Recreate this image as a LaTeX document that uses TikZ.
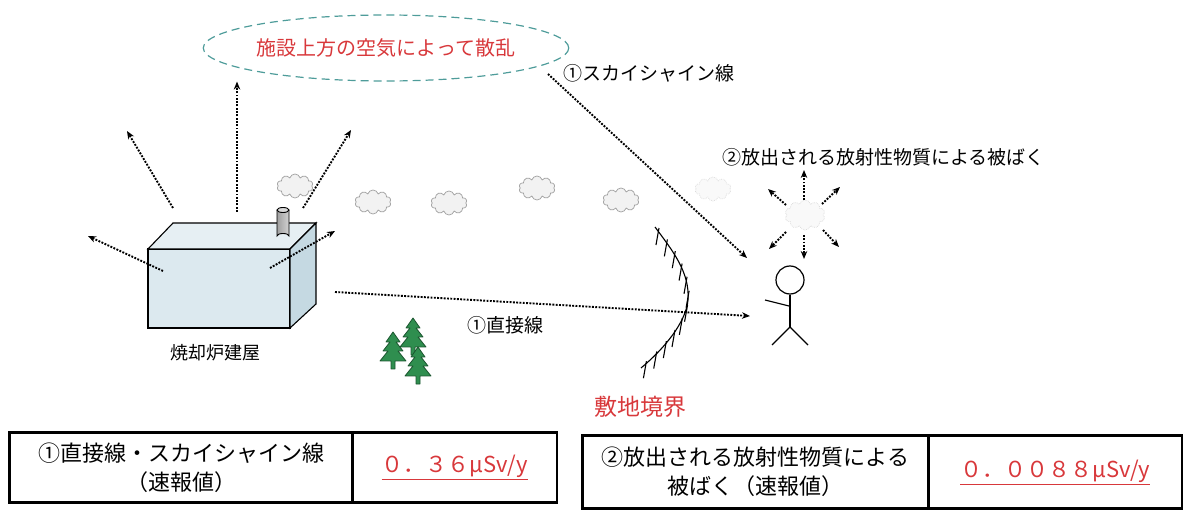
\documentclass[tikz,border=0pt]{standalone}
\usepackage{fontspec}
\setmainfont{Noto Sans CJK JP}
\usetikzlibrary{arrows.meta, positioning, shapes.geometric, shapes.symbols, decorations.markings}

\definecolor{avisorojo}{HTML}{D8383B}
\definecolor{bordeturq}{HTML}{4E9C9A}
\definecolor{muroazul}{HTML}{DCE9EF}
\definecolor{ladoazul}{HTML}{C5D9E2}
\definecolor{techoazul}{HTML}{E6EFF3}
\definecolor{pinoverde}{HTML}{2F8E4F}
\definecolor{pinooscuro}{HTML}{1C5630}

\begin{document}
\begin{tikzpicture}[x=1pt, y=-1pt, >={Stealth[length=8pt, width=6.5pt]},
  ray/.style={->, line width=1.9pt, dash pattern=on 1.9pt off 1.4pt},
  puff/.style={cloud, cloud puffs=10, aspect=1.6, draw=gray!75, fill=gray!10, line width=0.7pt, minimum width=36pt, minimum height=24pt, inner sep=0pt},
  faintpuff/.style={puff, draw=gray!30, fill=gray!5, densely dotted},
  tag/.style={font=\fontsize{19}{22}\selectfont, inner sep=0pt},
  redtag/.style={tag, text=avisorojo},
  cell/.style={draw, line width=1.2pt, font=\fontsize{22}{29}\selectfont, align=center, inner sep=0pt},
  dose/.style={cell, text=avisorojo}]

  \useasboundingbox (0,0) rectangle (1191,510);

  % Nube de dispersion sobre la planta
  \node [ellipse, draw=bordeturq, line width=1.2pt, dash pattern=on 8pt off 5pt, minimum width=342pt, minimum height=66pt,
         redtag, font=\fontsize{20}{22}\selectfont] (scatter) at (386,48) {施設上方の空気によって散乱};

  % Edificio del incinerador
  \draw [line width=1.1pt, fill=muroazul] (148,249) rectangle (290,328);
  \draw [line width=1.1pt, fill=techoazul] (148,249) -- (173,223) -- (316,223) -- (290,249) -- cycle;
  \draw [line width=1.1pt, fill=ladoazul] (290,249) -- (316,223) -- (316,304) -- (290,328) -- cycle;
  \draw [line width=0.9pt, left color=gray!75, right color=gray!35] (277,210) -- (277,236) arc (180:360:6 and 2.5) -- (289,210);
  \draw [line width=0.9pt, fill=gray!30] (283,210) ellipse (6 and 2.5);
  \node [tag, font=\fontsize{18}{20}\selectfont] (building) at (215,353) {焼却炉建屋};

  % Salidas de radiacion del edificio
  \coordinate (wallW) at (163,271);  \coordinate (outW) at (88,236);
  \coordinate (roofW) at (173,208);  \coordinate (outNW) at (127,131);
  \coordinate (roofC) at (237,212);
  \coordinate (roofE) at (303,208);  \coordinate (outNE) at (351,130);
  \coordinate (wallE) at (270,268);  \coordinate (outE) at (335,231);
  \draw [ray] (wallW) -- (outW);
  \draw [ray] (roofW) -- (outNW);
  \draw [ray] (roofC) -- (roofC |- scatter.south);
  \draw [ray] (roofE) -- (outNE);
  \draw [ray] (wallE) -- (outE);

  % Humo de la chimenea
  \node [puff] (smoke1) at (295,186) {};
  \node [puff] (smoke2) at (373,202) {};
  \node [puff] (smoke3) at (449,203) {};
  \node [puff] (smoke4) at (537,188) {};
  \node [puff] (smoke5) at (621,200) {};
  \node [faintpuff] (smoke6) at (713,189) {};
  \node [faintpuff, minimum width=40pt, minimum height=30pt] (gascloud) at (805,215) {};

  % Arboles
  \foreach \tx/\ty in {393/332, 413/318, 418/347}
    \draw [shift={(\tx,\ty)}, line width=0.8pt, draw=pinooscuro, fill=pinoverde, line join=round]
      (0,0) -- (-7,10) -- (-3,10) -- (-10,19) -- (-5,19) -- (-13,29) -- (-2,29) -- (-2,37)
      -- (2,37) -- (2,29) -- (13,29) -- (5,19) -- (10,19) -- (3,10) -- (7,10) -- cycle;

  % Limite del terreno (valla)
  \draw [line width=1.1pt, postaction={decorate},
         decoration={markings, mark=between positions 0.03 and 0.99 step 0.085 with
           {\pgftransformresetnontranslations \draw [line width=1.1pt] (1,-3) -- (-2,14);}}]
    (655,227) .. controls (672,250) and (690,272) .. (688,300) .. controls (686,322) and (665,348) .. (641,368);
  \node [redtag, font=\fontsize{23}{25}\selectfont] (fence) at (640,407) {敷地境界};

  % Persona
  \node [circle, draw, line width=1.2pt, minimum size=28pt, inner sep=0pt] (head) at (790,280) {};
  \coordinate (hip) at (790,327);
  \draw [line width=1.2pt] (head.south) -- (hip);
  \draw [line width=1.2pt] (789,306) -- (765,300);
  \draw [line width=1.2pt] (772,345) -- (hip) -- (808,345);

  % Radiacion directa y skyshine
  \coordinate (beamstart) at (335,292);
  \coordinate (beamend) at (750,316);
  \coordinate (skystart) at (548,74);
  \coordinate (skyend) at (747,258);
  \draw [ray] (beamstart) -- (beamend);
  \draw [ray] (skystart) -- (skyend);
  \node [tag, anchor=west] (directlbl) at (467,325) {①直接線};
  \node [tag, anchor=west] (skylbl) at (563,73) {①スカイシャイン線};
  \node [tag, anchor=west] (gaslbl) at (722,157) {②放出される放射性物質による被ばく};

  % Rayos desde la nube de gas
  \foreach \sx/\sy/\ex/\ey in {-1/-15/-1/-45, -19/-10/-37/-26, 17/-11/35/-28,
                               -19/17/-36/34, -1/20/-1/44, 18/15/34/32}
    \draw [ray, shift={(gascloud.center)}] (\sx,\sy) -- (\ex,\ey);

  % Tablas de resultados
  \node [cell, minimum width=342pt, minimum height=69pt] (skycell) at (181,467.5) {①直接線・スカイシャイン線\\（速報値）};
  \node [dose, minimum width=203pt, minimum height=69pt, right=0pt of skycell] (skyval) {\underline{０．３６μSv/y}};
  \draw [line width=2.6pt] (skycell.north west) rectangle (skyval.south east);

  \node [cell, minimum width=345pt, minimum height=72pt] (gascell) at (755.5,472) {②放出される放射性物質による\\被ばく（速報値）};
  \node [dose, minimum width=252pt, minimum height=72pt, right=0pt of gascell] (gasval) {\underline{０．００８８μSv/y}};
  \draw [line width=2.6pt] (gascell.north west) rectangle (gasval.south east);
\end{tikzpicture}
\end{document}
